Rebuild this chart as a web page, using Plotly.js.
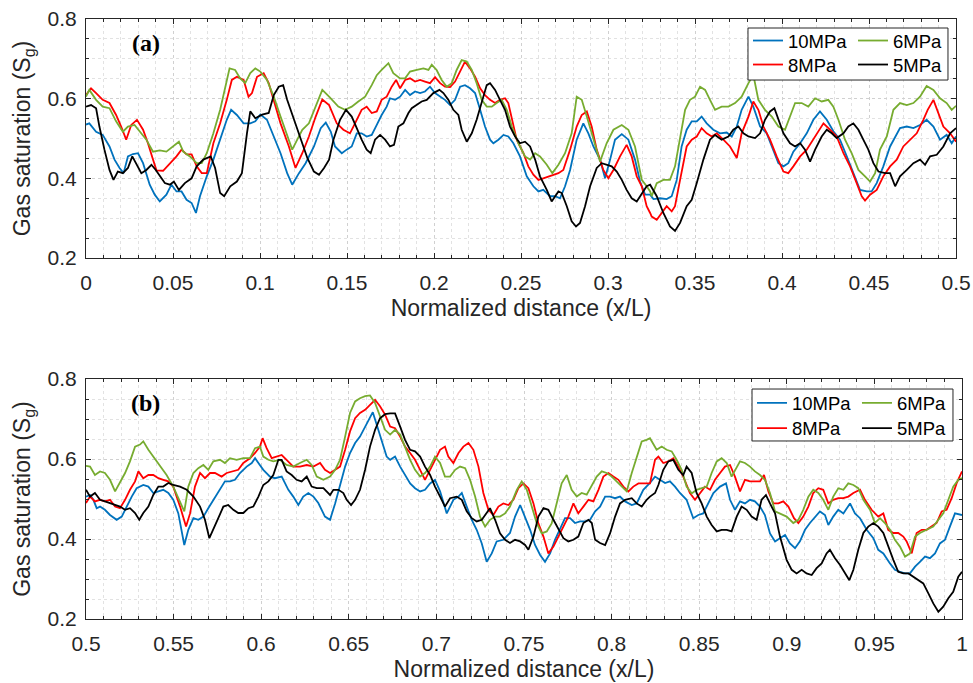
<!DOCTYPE html>
<html>
<head>
<meta charset="utf-8">
<script src="https://cdn.plot.ly/plotly-3.0.1.min.js"></script>
<style>html,body{margin:0;padding:0;background:#fff;}#chart{width:973px;height:683px;}</style>
</head>
<body>
<div id="chart"></div>
<script>
// ---------- labels ----------
const seriesNames = ['10MPa', '8MPa', '6MPa', '5MPa'];
const seriesColors = ['#0072BD', '#FF0000', '#77AC30', '#000000'];
const xTicksA = [0, 0.05, 0.1, 0.15, 0.2, 0.25, 0.3, 0.35, 0.4, 0.45, 0.5];
const xTickTextA = ['0', '0.05', '0.1', '0.15', '0.2', '0.25', '0.3', '0.35', '0.4', '0.45', '0.5'];
const xTicksB = [0.5, 0.55, 0.6, 0.65, 0.7, 0.75, 0.8, 0.85, 0.9, 0.95, 1];
const xTickTextB = ['0.5', '0.55', '0.6', '0.65', '0.7', '0.75', '0.8', '0.85', '0.9', '0.95', '1'];
const yTicks = [0.2, 0.4, 0.6, 0.8];
const yTickText = ['0.2', '0.4', '0.6', '0.8'];
const xTitle = 'Normalized distance (x/L)';
const yTitle = 'Gas saturation (S<sub>g</sub>)';

// ---------- data, panel (a): [x, Sg] ----------
const a10 = [[0,0.535],[0.0019,0.538],[0.0058,0.517],[0.0096,0.509],[0.0135,0.48],[0.0164,0.447],[0.0193,0.426],[0.0216,0.413],[0.0241,0.455],[0.027,0.461],[0.0299,0.463],[0.0328,0.438],[0.0366,0.384],[0.0395,0.359],[0.0424,0.342],[0.0462,0.359],[0.0491,0.384],[0.052,0.367],[0.0549,0.367],[0.0578,0.346],[0.0607,0.338],[0.0632,0.313],[0.0655,0.355],[0.0694,0.405],[0.0732,0.447],[0.0771,0.497],[0.0809,0.547],[0.0834,0.572],[0.0867,0.559],[0.0906,0.538],[0.0944,0.538],[0.0973,0.543],[0.1002,0.56],[0.104,0.547],[0.1079,0.505],[0.1118,0.463],[0.1156,0.413],[0.1185,0.384],[0.1224,0.413],[0.1262,0.438],[0.131,0.48],[0.1349,0.526],[0.1378,0.54],[0.1407,0.517],
[0.1431,0.48],[0.147,0.463],[0.1498,0.472],[0.1527,0.48],[0.1556,0.513],[0.1584,0.513],[0.1613,0.505],[0.1642,0.509],[0.1671,0.534],[0.1699,0.559],[0.1728,0.58],[0.1747,0.601],[0.1776,0.597],[0.1805,0.605],[0.1834,0.622],[0.1862,0.609],[0.1891,0.618],[0.192,0.614],[0.1948,0.618],[0.1977,0.63],[0.2006,0.614],[0.2035,0.605],[0.2063,0.597],[0.2092,0.584],[0.2121,0.597],[0.215,0.63],[0.2178,0.634],[0.2207,0.626],[0.2236,0.614],[0.2265,0.572],[0.2293,0.53],[0.2322,0.497],[0.2341,0.488],[0.237,0.497],[0.2399,0.509],[0.2427,0.505],[0.2456,0.488],[0.2494,0.455],[0.2533,0.405],[0.2571,0.38],[0.26,0.367],[0.2628,0.371],[0.2667,0.355],[0.2696,0.355],[0.2724,0.35],[0.2753,0.38],[0.2782,0.421],[0.282,0.497],[0.2858,0.538],[0.2887,0.513],[0.2916,0.48],[0.2954,0.447],[0.2983,0.4],[0.3012,0.447],[0.304,0.497],[0.3079,0.511],[0.3117,0.497],[0.3155,0.447],[0.3184,0.392],[0.3213,0.359],[0.3242,0.359],
[0.3261,0.348],[0.3299,0.35],[0.3337,0.348],[0.3366,0.355],[0.3395,0.396],[0.3423,0.48],[0.3452,0.522],[0.3481,0.543],[0.351,0.543],[0.3538,0.555],[0.3567,0.538],[0.3605,0.522],[0.3644,0.513],[0.3682,0.515],[0.3711,0.505],[0.374,0.53],[0.3768,0.572],[0.3807,0.605],[0.3835,0.58],[0.3874,0.53],[0.3912,0.513],[0.395,0.472],[0.3979,0.438],[0.4008,0.43],[0.4036,0.438],[0.4065,0.467],[0.4104,0.488],[0.4142,0.513],[0.418,0.547],[0.4218,0.568],[0.4257,0.547],[0.4295,0.518],[0.4333,0.497],[0.4372,0.455],[0.441,0.413],[0.4448,0.371],[0.4487,0.367],[0.4515,0.367],[0.4544,0.388],[0.4582,0.43],[0.4621,0.48],[0.465,0.505],[0.4678,0.526],[0.4717,0.53],[0.4755,0.526],[0.4793,0.534],[0.4831,0.547],[0.487,0.53],[0.4908,0.497],[0.4946,0.509],[0.4975,0.488],[0.5,0.505]];

const a8 = [[0,0.609],[0.0029,0.626],[0.0058,0.614],[0.0096,0.597],[0.0135,0.589],[0.0173,0.559],[0.0202,0.53],[0.0231,0.497],[0.026,0.534],[0.0293,0.547],[0.0328,0.522],[0.0356,0.488],[0.0385,0.447],[0.0405,0.42],[0.0443,0.419],[0.0482,0.438],[0.052,0.455],[0.0549,0.472],[0.0578,0.46],[0.0607,0.46],[0.0636,0.43],[0.0665,0.413],[0.0694,0.413],[0.0732,0.488],[0.0771,0.538],[0.0809,0.597],[0.0838,0.647],[0.0867,0.655],[0.0906,0.647],[0.0934,0.605],[0.0954,0.614],[0.0983,0.655],[0.1021,0.664],[0.105,0.639],[0.1079,0.597],[0.1118,0.538],[0.1166,0.48],[0.1204,0.426],[0.1243,0.463],[0.1281,0.505],[0.132,0.555],[0.1358,0.598],[0.1397,0.584],
[0.1441,0.538],[0.1479,0.522],[0.1517,0.513],[0.1546,0.538],[0.1584,0.572],[0.1613,0.58],[0.1642,0.564],[0.1671,0.568],[0.1699,0.597],[0.1728,0.605],[0.1757,0.63],[0.1782,0.647],[0.1805,0.626],[0.1834,0.647],[0.1862,0.651],[0.1891,0.643],[0.192,0.647],[0.1948,0.643],[0.1977,0.639],[0.2006,0.654],[0.2035,0.639],[0.2063,0.63],[0.2092,0.629],[0.2121,0.643],[0.215,0.668],[0.2178,0.693],[0.2207,0.676],[0.2236,0.655],[0.2265,0.626],[0.2293,0.609],[0.2322,0.597],[0.2351,0.589],[0.2379,0.597],[0.2408,0.601],[0.2427,0.589],[0.2447,0.547],[0.2475,0.497],[0.2514,0.463],[0.2542,0.43],[0.2571,0.409],[0.26,0.396],[0.2628,0.4],[0.2657,0.405],[0.2686,0.409],[0.2715,0.413],[0.2743,0.421],[0.2782,0.472],[0.282,0.53],[0.2849,0.559],[0.2878,0.568],[0.2906,0.53],[0.2935,0.472],[0.2973,0.421],[0.3002,0.4],[0.3031,0.421],[0.3069,0.455],[0.3107,0.484],[0.3136,0.455],[0.3165,0.405],[0.3194,0.38],[0.3222,0.33],[0.3242,0.313],
[0.3251,0.304],[0.328,0.296],[0.3309,0.313],[0.3337,0.33],[0.3366,0.317],[0.3385,0.33],[0.3414,0.396],[0.3452,0.48],[0.3481,0.497],[0.351,0.505],[0.3538,0.526],[0.3567,0.513],[0.3596,0.505],[0.3625,0.513],[0.3663,0.497],[0.3701,0.48],[0.374,0.451],[0.3768,0.513],[0.3807,0.555],[0.3835,0.593],[0.3864,0.572],[0.3893,0.53],[0.3931,0.497],[0.3969,0.455],[0.4008,0.417],[0.4036,0.413],[0.4065,0.43],[0.4104,0.455],[0.4142,0.472],[0.418,0.497],[0.4209,0.518],[0.4238,0.538],[0.4276,0.522],[0.4314,0.505],[0.4353,0.463],[0.4391,0.43],[0.4429,0.388],[0.4458,0.355],[0.4477,0.344],[0.4506,0.359],[0.4544,0.371],[0.4582,0.405],[0.4621,0.43],[0.4659,0.447],[0.4697,0.48],[0.4736,0.497],[0.4774,0.513],[0.4812,0.547],[0.4837,0.572],[0.487,0.597],[0.4899,0.564],[0.4927,0.53],[0.4966,0.513],[0.5,0.492]];

const a6 = [[0,0.605],[0.0019,0.622],[0.0058,0.597],[0.0096,0.58],[0.0135,0.576],[0.0173,0.543],[0.0212,0.517],[0.0241,0.53],[0.0279,0.534],[0.0308,0.517],[0.0347,0.497],[0.0385,0.467],[0.0424,0.47],[0.0462,0.467],[0.0501,0.48],[0.0534,0.492],[0.0559,0.467],[0.0597,0.455],[0.0636,0.438],[0.0665,0.438],[0.0694,0.463],[0.0732,0.513],[0.0771,0.572],[0.08,0.63],[0.0825,0.676],[0.0857,0.672],[0.0886,0.651],[0.0915,0.639],[0.0944,0.664],[0.0973,0.676],[0.1002,0.668],[0.104,0.647],[0.1079,0.605],[0.1118,0.555],[0.1156,0.505],[0.1185,0.472],[0.1214,0.497],[0.1243,0.522],[0.1281,0.538],[0.132,0.58],[0.1358,0.622],[0.1397,0.605],
[0.145,0.58],[0.1489,0.572],[0.1527,0.58],[0.1565,0.593],[0.1604,0.605],[0.1642,0.634],[0.1671,0.659],[0.1699,0.672],[0.1738,0.689],[0.1766,0.664],[0.1805,0.651],[0.1834,0.651],[0.1862,0.668],[0.1901,0.672],[0.1939,0.676],[0.1968,0.672],[0.1987,0.685],[0.2015,0.672],[0.2044,0.647],[0.2073,0.63],[0.2102,0.639],[0.213,0.672],[0.2159,0.697],[0.2188,0.693],[0.2217,0.672],[0.2245,0.639],[0.2274,0.597],[0.2303,0.58],[0.2332,0.58],[0.236,0.589],[0.2389,0.597],[0.2418,0.572],[0.2447,0.53],[0.2485,0.488],[0.2523,0.455],[0.2552,0.447],[0.2581,0.463],[0.2609,0.455],[0.2648,0.434],[0.268,0.413],[0.2715,0.434],[0.2753,0.463],[0.2791,0.513],[0.282,0.605],[0.2849,0.597],[0.2878,0.555],[0.2916,0.497],[0.2954,0.442],[0.2992,0.488],[0.3031,0.522],[0.3079,0.534],[0.3117,0.522],[0.3155,0.48],[0.3194,0.396],[0.3222,0.38],[0.3242,0.367],
[0.3251,0.355],[0.328,0.388],[0.3318,0.396],[0.3356,0.396],[0.3385,0.43],[0.3414,0.497],[0.3443,0.572],[0.3471,0.597],[0.35,0.605],[0.3529,0.63],[0.3558,0.622],[0.3586,0.597],[0.3615,0.572],[0.3653,0.58],[0.3692,0.58],[0.373,0.589],[0.3768,0.605],[0.3807,0.639],[0.3835,0.66],[0.3864,0.597],[0.3902,0.572],[0.3941,0.555],[0.3979,0.53],[0.4017,0.522],[0.4046,0.555],[0.4075,0.589],[0.4113,0.589],[0.4151,0.58],[0.419,0.601],[0.4228,0.593],[0.4266,0.597],[0.4295,0.58],[0.4324,0.547],[0.4362,0.497],[0.44,0.463],[0.4439,0.421],[0.4477,0.405],[0.4506,0.392],[0.4535,0.413],[0.4563,0.472],[0.4602,0.505],[0.464,0.572],[0.4678,0.589],[0.4717,0.584],[0.4755,0.589],[0.4793,0.605],[0.4831,0.632],[0.487,0.622],[0.4908,0.601],[0.4946,0.589],[0.4975,0.572],[0.5,0.582]];

const a5 = [[0,0.58],[0.0029,0.584],[0.0058,0.576],[0.0077,0.53],[0.0106,0.472],[0.0135,0.421],[0.0158,0.396],[0.0183,0.417],[0.0212,0.413],[0.0241,0.426],[0.0266,0.455],[0.0289,0.438],[0.0318,0.413],[0.0347,0.421],[0.0376,0.434],[0.0401,0.421],[0.0424,0.405],[0.0453,0.388],[0.0482,0.384],[0.0505,0.392],[0.0534,0.371],[0.0568,0.388],[0.0607,0.4],[0.0636,0.43],[0.0674,0.447],[0.0717,0.455],[0.0742,0.426],[0.0771,0.363],[0.0794,0.355],[0.0829,0.38],[0.0867,0.392],[0.0896,0.413],[0.0925,0.513],[0.0944,0.568],[0.0973,0.551],[0.1012,0.56],[0.105,0.564],[0.1079,0.609],[0.1108,0.63],[0.1133,0.634],[0.1156,0.597],[0.1195,0.547],[0.1233,0.497],[0.1272,0.451],[0.131,0.417],[0.1339,0.409],[0.1368,0.426],[0.1397,0.447],
[0.1422,0.497],[0.146,0.547],[0.1494,0.572],[0.1527,0.555],[0.1556,0.526],[0.1584,0.497],[0.1613,0.472],[0.1636,0.463],[0.1661,0.497],[0.169,0.509],[0.1719,0.497],[0.1747,0.48],[0.177,0.484],[0.1795,0.53],[0.1824,0.538],[0.1853,0.564],[0.1872,0.576],[0.1901,0.584],[0.1929,0.593],[0.1958,0.597],[0.1996,0.614],[0.2031,0.622],[0.2054,0.614],[0.2083,0.597],[0.2111,0.572],[0.214,0.559],[0.2159,0.522],[0.2188,0.492],[0.2217,0.513],[0.2245,0.547],[0.2274,0.589],[0.2303,0.634],[0.2322,0.639],[0.2351,0.622],[0.2379,0.597],[0.2408,0.572],[0.2437,0.53],[0.2466,0.505],[0.2494,0.488],[0.2523,0.492],[0.2552,0.48],[0.2581,0.447],[0.2609,0.405],[0.2648,0.371],[0.2676,0.342],[0.2696,0.355],[0.2715,0.367],[0.2734,0.363],[0.2763,0.33],[0.2791,0.292],[0.2816,0.279],[0.2839,0.288],[0.2868,0.33],[0.2897,0.38],[0.2935,0.426],[0.2964,0.438],[0.2992,0.434],[0.3021,0.43],[0.305,0.417],[0.3079,0.396],[0.3107,0.371],[0.3136,0.35],[0.3165,0.342],[0.3194,0.363],[0.3222,0.38],[0.3242,0.384],
[0.328,0.355],[0.3318,0.313],[0.3356,0.279],[0.3385,0.268],[0.3414,0.288],[0.3452,0.33],[0.3481,0.346],[0.351,0.388],[0.3548,0.447],[0.3586,0.497],[0.3615,0.509],[0.3653,0.497],[0.3692,0.505],[0.372,0.522],[0.3749,0.53],[0.3778,0.513],[0.3807,0.505],[0.3845,0.501],[0.3874,0.513],[0.3902,0.547],[0.3931,0.568],[0.3956,0.576],[0.3979,0.547],[0.4008,0.513],[0.4046,0.488],[0.4075,0.48],[0.4104,0.488],[0.4132,0.472],[0.4161,0.442],[0.419,0.472],[0.4228,0.505],[0.4257,0.522],[0.4286,0.513],[0.4314,0.501],[0.4353,0.513],[0.4381,0.53],[0.441,0.538],[0.4439,0.522],[0.4467,0.497],[0.4496,0.472],[0.4525,0.438],[0.4554,0.417],[0.4592,0.413],[0.4621,0.413],[0.465,0.38],[0.4678,0.405],[0.4717,0.421],[0.4755,0.438],[0.4793,0.447],[0.4822,0.434],[0.4851,0.455],[0.4889,0.459],[0.4927,0.48],[0.4966,0.513],[0.5,0.526]];

// ---------- data, panel (b): [x, Sg] ----------
const b10 = [[0.5,0.506],[0.5023,0.51],[0.5042,0.498],[0.5061,0.477],[0.508,0.481],[0.5108,0.473],[0.5137,0.46],[0.5175,0.448],[0.5204,0.456],[0.5232,0.481],[0.5261,0.506],[0.5289,0.527],[0.5327,0.535],[0.5356,0.531],[0.5384,0.515],[0.5413,0.519],[0.5441,0.523],[0.547,0.515],[0.5498,0.498],[0.5527,0.464],[0.5561,0.385],[0.5584,0.423],[0.5613,0.452],[0.5641,0.448],[0.567,0.456],[0.5698,0.477],[0.5727,0.498],[0.5765,0.523],[0.5793,0.544],[0.5822,0.544],[0.585,0.548],[0.5879,0.565],[0.5917,0.581],[0.5946,0.59],[0.5965,0.602],[0.5984,0.59],[0.6012,0.573],[0.605,0.556],[0.6079,0.552],[0.6117,0.556],[0.6155,0.523],[0.6183,0.506],[0.6212,0.485],[0.624,0.506],[0.6269,0.515],[0.6298,0.506],[0.6326,0.49],[0.6364,0.456],[0.6393,0.448],
[0.6422,0.489],[0.645,0.531],[0.6479,0.581],[0.6507,0.615],[0.6536,0.64],[0.6564,0.656],[0.6593,0.681],[0.6621,0.702],[0.6637,0.717],[0.6659,0.686],[0.6688,0.648],[0.6716,0.606],[0.6736,0.598],[0.6764,0.606],[0.6793,0.581],[0.6821,0.56],[0.685,0.539],[0.6878,0.527],[0.6907,0.519],[0.6935,0.523],[0.6964,0.539],[0.6992,0.548],[0.7021,0.519],[0.7059,0.464],[0.7097,0.498],[0.7126,0.506],[0.7145,0.515],[0.7173,0.481],[0.7202,0.448],[0.723,0.423],[0.7259,0.389],[0.7287,0.343],[0.7316,0.364],[0.7344,0.394],[0.7382,0.398],[0.742,0.415],[0.7449,0.456],[0.7478,0.485],[0.7506,0.456],[0.7535,0.423],[0.7563,0.385],[0.7592,0.36],[0.762,0.343],[0.7649,0.364],[0.7677,0.398],[0.7706,0.427],[0.7734,0.452],[0.7763,0.452],[0.7791,0.44],[0.782,0.444],[0.7849,0.444],[0.7877,0.448],[0.7906,0.469],[0.7934,0.481],[0.7963,0.506],[0.7991,0.506],[0.802,0.502],[0.8048,0.506],[0.8077,0.494],[0.8115,0.485],[0.8143,0.489],[0.8181,0.523],[0.8219,0.54],
[0.8248,0.556],[0.8276,0.548],[0.8305,0.54],[0.8333,0.544],[0.8362,0.531],[0.839,0.515],[0.8428,0.498],[0.8466,0.452],[0.8495,0.46],[0.8523,0.464],[0.8552,0.489],[0.8581,0.515],[0.8619,0.531],[0.8653,0.539],[0.8676,0.498],[0.8704,0.473],[0.8733,0.494],[0.8761,0.489],[0.879,0.498],[0.8818,0.494],[0.8847,0.481],[0.8875,0.46],[0.8904,0.414],[0.8933,0.394],[0.8961,0.402],[0.899,0.41],[0.9018,0.389],[0.9047,0.377],[0.9075,0.394],[0.9104,0.423],[0.9132,0.44],[0.9161,0.456],[0.9189,0.469],[0.9218,0.46],[0.9237,0.435],[0.9265,0.456],[0.9294,0.473],[0.9323,0.464],[0.9361,0.489],[0.9389,0.464],[0.9418,0.452],[0.9456,0.423],[0.9494,0.402],[0.9522,0.373],[0.9551,0.364],[0.9589,0.339],[0.9617,0.323],[0.9646,0.318],[0.9675,0.314],[0.9703,0.314],[0.9732,0.331],[0.976,0.343],[0.9789,0.356],[0.9817,0.352],[0.9846,0.364],[0.9874,0.389],[0.9903,0.398],[0.9931,0.431],[0.996,0.464],[1,0.46]];

const b8 = [[0.5,0.49],[0.5023,0.506],[0.5051,0.494],[0.508,0.498],[0.5108,0.494],[0.5137,0.498],[0.5166,0.481],[0.5194,0.477],[0.5223,0.498],[0.5251,0.523],[0.528,0.544],[0.5299,0.569],[0.5327,0.552],[0.5356,0.56],[0.5384,0.56],[0.5413,0.552],[0.5441,0.548],[0.547,0.544],[0.5498,0.531],[0.5537,0.481],[0.5571,0.431],[0.5594,0.464],[0.5622,0.531],[0.5651,0.565],[0.5679,0.552],[0.5708,0.565],[0.5736,0.565],[0.5774,0.556],[0.5803,0.565],[0.5831,0.569],[0.5869,0.573],[0.5898,0.59],[0.5936,0.602],[0.5965,0.615],[0.5993,0.631],[0.6008,0.652],[0.6031,0.627],[0.606,0.602],[0.6088,0.606],[0.6117,0.61],[0.6145,0.598],[0.6183,0.581],[0.6221,0.581],[0.626,0.585],[0.6298,0.581],[0.6336,0.59],[0.6364,0.573],[0.6393,0.565],
[0.6422,0.573],[0.645,0.581],[0.6479,0.623],[0.6507,0.669],[0.6536,0.702],[0.6564,0.715],[0.6593,0.723],[0.6621,0.736],[0.665,0.748],[0.6678,0.732],[0.6707,0.711],[0.6736,0.681],[0.6764,0.677],[0.6793,0.656],[0.6821,0.631],[0.685,0.615],[0.6878,0.598],[0.6907,0.573],[0.6935,0.548],[0.6964,0.573],[0.6992,0.598],[0.7021,0.623],[0.7049,0.631],[0.7068,0.606],[0.7097,0.59],[0.7126,0.615],[0.7154,0.631],[0.7183,0.64],[0.7211,0.623],[0.724,0.581],[0.7268,0.515],[0.7297,0.473],[0.7325,0.46],[0.7354,0.481],[0.7382,0.489],[0.7411,0.485],[0.7439,0.498],[0.7468,0.527],[0.7497,0.539],[0.7525,0.527],[0.7554,0.489],[0.7582,0.439],[0.7611,0.406],[0.7639,0.364],[0.7668,0.381],[0.7696,0.406],[0.7725,0.431],[0.7753,0.456],[0.7782,0.489],[0.781,0.464],[0.7839,0.481],[0.7868,0.498],[0.7896,0.494],[0.7925,0.523],[0.7953,0.556],[0.7982,0.565],[0.801,0.556],[0.8039,0.548],[0.8067,0.531],[0.8096,0.519],[0.8124,0.531],[0.8153,0.539],[0.8191,0.539],[0.8219,0.539],
[0.8248,0.598],[0.8267,0.606],[0.8295,0.59],[0.8324,0.594],[0.8352,0.602],[0.8381,0.581],[0.8409,0.556],[0.8447,0.515],[0.8476,0.498],[0.8504,0.515],[0.8533,0.531],[0.8562,0.523],[0.859,0.548],[0.8619,0.565],[0.8647,0.581],[0.8676,0.585],[0.8704,0.556],[0.8733,0.519],[0.8761,0.548],[0.879,0.544],[0.8818,0.544],[0.8847,0.544],[0.887,0.56],[0.8895,0.519],[0.8923,0.489],[0.8952,0.489],[0.898,0.494],[0.9009,0.481],[0.9041,0.452],[0.9066,0.44],[0.9094,0.456],[0.9123,0.481],[0.9151,0.515],[0.918,0.527],[0.9208,0.523],[0.9237,0.489],[0.9265,0.498],[0.9294,0.502],[0.9323,0.502],[0.9351,0.506],[0.938,0.515],[0.9418,0.523],[0.9446,0.498],[0.9484,0.473],[0.9522,0.456],[0.9551,0.464],[0.9579,0.423],[0.9608,0.415],[0.9636,0.415],[0.9665,0.406],[0.9684,0.394],[0.9713,0.364],[0.9741,0.415],[0.977,0.423],[0.9798,0.423],[0.9827,0.431],[0.9855,0.44],[0.9884,0.469],[0.9912,0.473],[0.9941,0.502],[0.9969,0.539],[1,0.569]];

const b6 = [[0.5,0.583],[0.5023,0.581],[0.5051,0.56],[0.508,0.569],[0.5108,0.565],[0.5137,0.548],[0.5166,0.519],[0.5194,0.54],[0.5223,0.565],[0.5251,0.594],[0.528,0.631],[0.5308,0.636],[0.5327,0.644],[0.5356,0.623],[0.5384,0.606],[0.5422,0.585],[0.546,0.56],[0.5498,0.531],[0.5537,0.49],[0.5561,0.469],[0.5584,0.531],[0.5613,0.565],[0.5641,0.577],[0.567,0.585],[0.5698,0.573],[0.5727,0.594],[0.5765,0.598],[0.5793,0.59],[0.5822,0.602],[0.586,0.598],[0.5898,0.602],[0.5936,0.602],[0.5965,0.627],[0.5993,0.631],[0.6012,0.606],[0.6041,0.598],[0.6069,0.594],[0.6107,0.598],[0.6145,0.585],[0.6183,0.581],[0.6221,0.59],[0.626,0.598],[0.6288,0.585],[0.6317,0.556],[0.6355,0.548],[0.6393,0.556],
[0.6422,0.573],[0.645,0.598],[0.6479,0.656],[0.6507,0.715],[0.6536,0.744],[0.6564,0.752],[0.6593,0.757],[0.6621,0.759],[0.665,0.74],[0.6678,0.707],[0.6707,0.673],[0.6736,0.661],[0.6764,0.673],[0.6793,0.661],[0.6821,0.631],[0.685,0.598],[0.6878,0.573],[0.6907,0.556],[0.6935,0.565],[0.6964,0.581],[0.6992,0.606],[0.7021,0.59],[0.7049,0.556],[0.7078,0.556],[0.7107,0.573],[0.7135,0.581],[0.7164,0.577],[0.7192,0.548],[0.7221,0.506],[0.7249,0.456],[0.7278,0.431],[0.7306,0.448],[0.7335,0.456],[0.7363,0.456],[0.7392,0.464],[0.742,0.481],[0.7459,0.523],[0.7487,0.544],[0.7516,0.523],[0.7544,0.481],[0.7573,0.439],[0.7601,0.414],[0.763,0.419],[0.7658,0.439],[0.7687,0.489],[0.7715,0.539],[0.7744,0.56],[0.7772,0.523],[0.7801,0.506],[0.7829,0.515],[0.7858,0.511],[0.7887,0.535],[0.7915,0.556],[0.7944,0.569],[0.7972,0.565],[0.8001,0.556],[0.8029,0.544],[0.8058,0.531],[0.8086,0.519],[0.8115,0.565],[0.8143,0.602],[0.8172,0.644],[0.82,0.648],[0.8219,0.652],
[0.8257,0.623],[0.8286,0.631],[0.8314,0.623],[0.8343,0.619],[0.8371,0.598],[0.84,0.573],[0.8428,0.531],[0.8457,0.514],[0.8485,0.523],[0.8514,0.527],[0.8543,0.531],[0.8571,0.565],[0.86,0.594],[0.8628,0.602],[0.8657,0.59],[0.8685,0.556],[0.8714,0.581],[0.8733,0.594],[0.8761,0.59],[0.879,0.581],[0.8818,0.569],[0.8847,0.56],[0.8875,0.548],[0.8904,0.515],[0.8933,0.469],[0.8961,0.464],[0.8999,0.456],[0.9037,0.44],[0.9066,0.448],[0.9094,0.473],[0.9123,0.506],[0.9151,0.523],[0.918,0.515],[0.9208,0.498],[0.9237,0.473],[0.9265,0.506],[0.9294,0.527],[0.9323,0.523],[0.9351,0.539],[0.938,0.535],[0.9408,0.527],[0.9437,0.498],[0.9475,0.473],[0.9503,0.44],[0.9532,0.452],[0.956,0.44],[0.9589,0.423],[0.9617,0.398],[0.9646,0.381],[0.9675,0.356],[0.9703,0.364],[0.9732,0.406],[0.976,0.415],[0.9798,0.423],[0.9836,0.431],[0.9865,0.448],[0.9893,0.464],[0.9922,0.498],[0.995,0.531],[0.9979,0.548],[1,0.552]];

const b5 = [[0.5,0.523],[0.5023,0.506],[0.5051,0.515],[0.508,0.498],[0.5108,0.494],[0.5137,0.49],[0.5166,0.485],[0.5194,0.481],[0.5223,0.473],[0.5251,0.477],[0.528,0.465],[0.5304,0.448],[0.5327,0.465],[0.5356,0.481],[0.5384,0.51],[0.5413,0.531],[0.5441,0.531],[0.547,0.54],[0.5498,0.535],[0.5537,0.531],[0.5575,0.523],[0.5613,0.506],[0.5651,0.481],[0.5679,0.448],[0.5704,0.402],[0.5727,0.423],[0.5755,0.452],[0.5784,0.481],[0.5812,0.485],[0.5841,0.473],[0.5869,0.465],[0.5898,0.465],[0.5927,0.477],[0.5955,0.481],[0.5984,0.506],[0.6012,0.535],[0.6041,0.544],[0.6069,0.56],[0.6098,0.598],[0.6117,0.598],[0.6145,0.569],[0.6174,0.56],[0.6202,0.548],[0.6231,0.544],[0.626,0.556],[0.6288,0.531],[0.6317,0.527],[0.6355,0.527],[0.6393,0.51],
[0.6412,0.523],[0.6441,0.523],[0.6469,0.515],[0.6488,0.498],[0.6513,0.485],[0.6536,0.498],[0.6564,0.523],[0.6593,0.573],[0.6621,0.631],[0.665,0.673],[0.6678,0.702],[0.6707,0.712],[0.6736,0.714],[0.6764,0.714],[0.6793,0.681],[0.6821,0.648],[0.685,0.623],[0.6878,0.619],[0.6907,0.606],[0.6935,0.581],[0.6964,0.56],[0.6992,0.531],[0.7021,0.506],[0.7049,0.481],[0.7078,0.502],[0.7116,0.506],[0.7145,0.498],[0.7173,0.469],[0.7202,0.452],[0.723,0.444],[0.7259,0.448],[0.7287,0.464],[0.7306,0.477],[0.7335,0.448],[0.7363,0.414],[0.7392,0.398],[0.742,0.39],[0.7449,0.398],[0.7478,0.394],[0.7506,0.385],[0.7525,0.373],[0.7554,0.406],[0.7582,0.456],[0.7611,0.477],[0.7639,0.473],[0.7668,0.448],[0.7696,0.427],[0.7725,0.402],[0.7753,0.394],[0.7782,0.398],[0.781,0.406],[0.7839,0.44],[0.7868,0.448],[0.7887,0.44],[0.7906,0.398],[0.7934,0.39],[0.7963,0.385],[0.7991,0.414],[0.802,0.456],[0.8048,0.489],[0.8077,0.498],[0.8115,0.502],[0.8143,0.489],[0.8172,0.481],[0.82,0.498],[0.8219,0.506],
[0.8248,0.515],[0.8267,0.535],[0.8295,0.573],[0.8324,0.594],[0.8352,0.598],[0.8381,0.573],[0.8409,0.56],[0.8428,0.581],[0.8457,0.565],[0.8485,0.515],[0.8514,0.489],[0.8543,0.456],[0.8571,0.435],[0.86,0.419],[0.8628,0.423],[0.8657,0.423],[0.8685,0.419],[0.8714,0.456],[0.8742,0.481],[0.8771,0.473],[0.8799,0.456],[0.8828,0.448],[0.8856,0.498],[0.8881,0.51],[0.8904,0.489],[0.8933,0.464],[0.8961,0.406],[0.8999,0.348],[0.9028,0.323],[0.9056,0.314],[0.9085,0.323],[0.9113,0.314],[0.9142,0.31],[0.917,0.327],[0.9199,0.339],[0.9227,0.364],[0.9246,0.373],[0.9275,0.352],[0.9304,0.335],[0.9332,0.314],[0.9357,0.297],[0.938,0.323],[0.9408,0.373],[0.9437,0.415],[0.9465,0.431],[0.9494,0.44],[0.9522,0.431],[0.9551,0.415],[0.9579,0.381],[0.9608,0.348],[0.9636,0.318],[0.9665,0.314],[0.9694,0.314],[0.9722,0.306],[0.9751,0.298],[0.9779,0.289],[0.9808,0.264],[0.9836,0.239],[0.9865,0.218],[0.9893,0.231],[0.9922,0.252],[0.995,0.268],[0.9979,0.306],[1,0.318]];

// ---------- build traces ----------
const panelA = [a10, a8, a6, a5];
const panelB = [b10, b8, b6, b5];
const legendIdsA = ['legend', 'legend2', 'legend3', 'legend4'];
const legendIdsB = ['legend5', 'legend6', 'legend7', 'legend8'];
const traces = [];
panelA.forEach((s, i) => traces.push({
  type: 'scatter', mode: 'lines', name: seriesNames[i],
  x: s.map(p => p[0]), y: s.map(p => p[1]), xaxis: 'x', yaxis: 'y',
  line: {color: seriesColors[i], width: 1.8}, legend: legendIdsA[i]
}));
panelB.forEach((s, i) => traces.push({
  type: 'scatter', mode: 'lines', name: seriesNames[i],
  x: s.map(p => p[0]), y: s.map(p => p[1]), xaxis: 'x2', yaxis: 'y2',
  line: {color: seriesColors[i], width: 1.8}, legend: legendIdsB[i]
}));

const FONT = 'Liberation Sans, Arial, Helvetica, sans-serif';
const INK = '#262626';
const titleFont = {family: FONT, size: 23, color: INK};
function axisBase(extra) {
  return Object.assign({
    showline: true, linecolor: INK, linewidth: 1, mirror: 'allticks',
    ticks: 'inside', ticklen: 5, tickwidth: 1, tickcolor: INK,
    showgrid: true, gridcolor: '#d0d0d0', griddash: 'dot', gridwidth: 1,
    zeroline: false, tickmode: 'array', automargin: false,
    tickfont: {family: FONT, size: 21, color: INK}
  }, extra);
}
const minorX = {tickmode: 'linear', tick0: 0, dtick: 0.01, ticks: 'inside', ticklen: 3, tickcolor: INK, showgrid: true, gridcolor: '#e2e2e2', griddash: 'dot'};
const minorY = {tickmode: 'linear', tick0: 0, dtick: 0.05, ticks: 'inside', ticklen: 3, tickcolor: INK, showgrid: true, gridcolor: '#e2e2e2', griddash: 'dot'};

const legendBase = {
  orientation: 'v', xanchor: 'left', yanchor: 'top', bgcolor: 'rgba(0,0,0,0)',
  borderwidth: 0, font: {family: FONT, size: 18.5, color: '#000'}, itemwidth: 30, tracegroupgap: 0
};
function lg(x, y) { return Object.assign({}, legendBase, {x: x, y: y}); }

const layout = {
  width: 973, height: 683,
  margin: {l: 86, r: 11, t: 19, b: 64},
  paper_bgcolor: '#fff', plot_bgcolor: '#fff',
  font: {family: FONT, color: INK},
  showlegend: true,
  xaxis: axisBase({domain: [0, 0.9932], range: [0, 0.5], anchor: 'y', tickvals: xTicksA, ticktext: xTickTextA, minor: minorX, ticklabelstandoff: 6,
    title: {text: xTitle, font: titleFont, standoff: 6}}),
  yaxis: axisBase({domain: [0.6017, 1], range: [0.2, 0.8], anchor: 'x', tickvals: yTicks, ticktext: yTickText, minor: minorY, ticklabelstandoff: 4,
    title: {text: yTitle, font: titleFont, standoff: 10}}),
  xaxis2: axisBase({domain: [0, 1], range: [0.5, 1], anchor: 'y2', tickvals: xTicksB, ticktext: xTickTextB, minor: minorX, ticklabelstandoff: 6,
    title: {text: xTitle, font: titleFont, standoff: 6}}),
  yaxis2: axisBase({domain: [0, 0.4], range: [0.2, 0.8], anchor: 'x2', tickvals: yTicks, ticktext: yTickText, minor: minorY, ticklabelstandoff: 4,
    title: {text: yTitle, font: titleFont, standoff: 10}}),
  legend: lg(0.7557, 0.995),
  legend2: lg(0.7557, 0.955),
  legend3: lg(0.8756, 0.995),
  legend4: lg(0.8756, 0.955),
  legend5: lg(0.7603, 0.391),
  legend6: lg(0.7603, 0.349),
  legend7: lg(0.8801, 0.391),
  legend8: lg(0.8801, 0.349),
  shapes: [
    {type: 'rect', xref: 'paper', yref: 'paper', x0: 0.7557, x1: 0.9840, y0: 0.8983, y1: 0.985, line: {color: INK, width: 1}, fillcolor: '#fff', layer: 'above'},
    {type: 'rect', xref: 'paper', yref: 'paper', x0: 0.7603, x1: 0.9897, y0: 0.2967, y1: 0.3833, line: {color: INK, width: 1}, fillcolor: '#fff', layer: 'above'}
  ],
  annotations: [
    {xref: 'paper', yref: 'paper', x: 0.0502, y: 0.96, text: '<b>(a)</b>', showarrow: false, xanchor: 'left', yanchor: 'middle', font: {family: 'Liberation Serif, Times New Roman, serif', size: 24, color: '#000'}},
    {xref: 'paper', yref: 'paper', x: 0.049, y: 0.3592, text: '<b>(b)</b>', showarrow: false, xanchor: 'left', yanchor: 'middle', font: {family: 'Liberation Serif, Times New Roman, serif', size: 24, color: '#000'}}
  ]
};

Plotly.newPlot('chart', traces, layout, {displayModeBar: false, staticPlot: true});
</script>
</body>
</html>
